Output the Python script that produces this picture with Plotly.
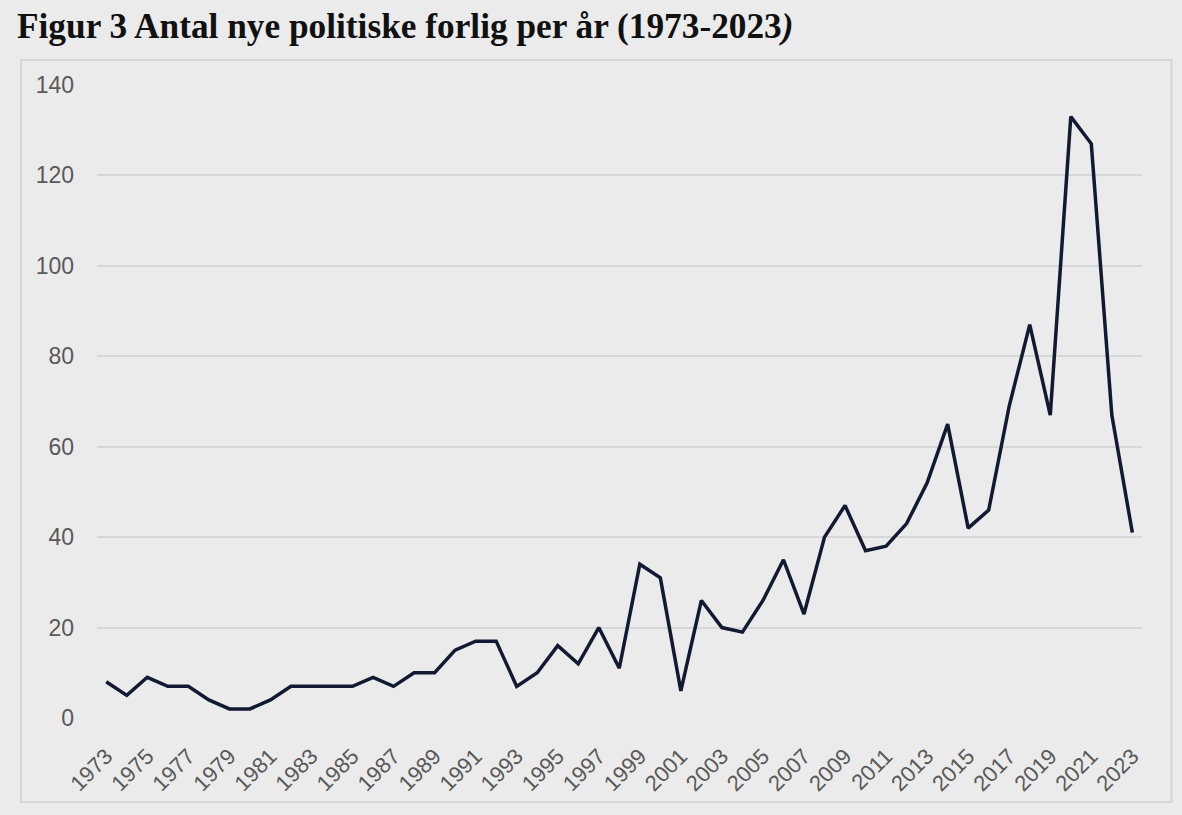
import plotly.graph_objects as go

years = list(range(1973, 2024))
forlig = [8, 5, 9, 7, 7, 4, 2, 2, 4, 7,
          7, 7, 7, 9, 7, 10, 10, 15, 17, 17,
          7, 10, 16, 12, 20, 11, 34, 31, 6, 26,
          20, 19, 26, 35, 23, 40, 47, 37, 38, 43,
          52, 65, 42, 46, 69, 87, 67, 133, 127, 67,
          41]
tick_years = years[::2]
tick_labels = [str(y) for y in tick_years]
y_ticks = [0, 20, 40, 60, 80, 100, 120, 140]

W, H = 1182, 815
L, R, T, B = 97, 40, 85, 97
pw, ph = W - L - R, H - T - B

fig = go.Figure()
fig.add_trace(go.Scatter(
    x=years, y=forlig, mode="lines",
    line=dict(color="#121a33", width=3.5),
    hoverinfo="x+y", showlegend=False,
))

bg = "#ebebeb"
fig.update_layout(
    width=W, height=H,
    margin=dict(l=L, r=R, t=T, b=B),
    paper_bgcolor=bg, plot_bgcolor=bg,
    font=dict(family="Liberation Sans, Arial, sans-serif", color="#595959", size=22),
    title=dict(
        text="<b>Figur 3 Antal nye politiske forlig per år (1973-2023<i>)</i></b>",
        font=dict(family="Liberation Serif, Times New Roman, serif", size=35.3, color="#111111"),
        x=17 / W, xanchor="left", xref="container",
        y=1 - 26 / H, yanchor="middle", yref="container",
    ),
    xaxis=dict(
        range=[1972.55, 2023.47],
        tickmode="array", tickvals=tick_years, ticktext=tick_labels,
        tickangle=-45, showgrid=False, zeroline=False, showline=False,
        ticks="", ticklabelstandoff=20,
        tickfont=dict(size=22, color="#595959"),
        fixedrange=True,
    ),
    yaxis=dict(
        range=[0, 140],
        tickmode="array", tickvals=y_ticks,
        showgrid=True, gridcolor="#d6d6d6", gridwidth=2,
        zeroline=False, showline=False, ticks="",
        ticklabelstandoff=22,
        tickfont=dict(size=23, color="#595959"),
        fixedrange=True,
    ),
)

# outer chart border (pixel positions converted to paper coordinates)
def px_x(v):
    return (v - L) / pw

def px_y(v):
    return (H - B - v) / ph

fig.add_shape(type="rect", xref="paper", yref="paper",
              x0=px_x(21), x1=px_x(1171.5), y0=px_y(802), y1=px_y(60),
              line=dict(color="#d6d6d6", width=2), fillcolor="rgba(0,0,0,0)",
              layer="below")

fig.write_html("out.html", config={"displayModeBar": False},
               post_script="document.body.style.margin='0';document.body.style.overflow='hidden';")
